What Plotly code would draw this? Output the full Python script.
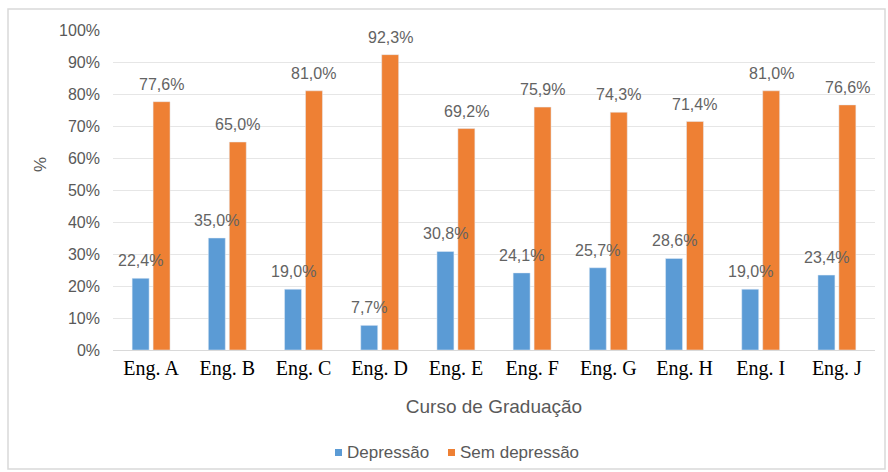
import plotly.graph_objects as go

cursos = ["Eng. A", "Eng. B", "Eng. C", "Eng. D", "Eng. E",
          "Eng. F", "Eng. G", "Eng. H", "Eng. I", "Eng. J"]
depressao = [22.4, 35.0, 19.0, 7.7, 30.8, 24.1, 25.7, 28.6, 19.0, 23.4]
sem_depressao = [77.6, 65.0, 81.0, 92.3, 69.2, 75.9, 74.3, 71.4, 81.0, 76.6]
y_ticks = list(range(0, 101, 10))
y_tick_labels = [f"{v}%" for v in y_ticks]

BLUE = "#5B9BD5"
ORANGE = "#EE8034"
GRAY = "#595959"
LABEL_GRAY = "#636363"
SANS = "Liberation Sans, Arial, sans-serif"

W, H = 888, 472
ml, mr, mt, mb = 113, 13, 30, 122
pw, ph = W - ml - mr, H - mt - mb

BARGAP, GROUPGAP = 0.45, 0.19
slot = pw / len(cursos)
sub = slot * (1 - BARGAP) / 2
offsets = [-sub / 2, sub / 2]

def px_x(p):
    return (p - ml) / pw

def px_y(p):
    return (H - mb - p) / ph

series = [("Depressão", depressao, BLUE), ("Sem depressão", sem_depressao, ORANGE)]

fig = go.Figure()
annotations = []
for (nome, valores, cor), dx in zip(series, offsets):
    fig.add_trace(go.Bar(x=cursos, y=valores, name=nome, marker_color=cor,
                         showlegend=False))
    # value labels sit a little above each bar
    for c, v in zip(cursos, valores):
        annotations.append(dict(
            x=c, y=v, xref="x", yref="y", text=f"{v:.1f}%".replace(".", ","),
            showarrow=False, xanchor="center", yanchor="bottom",
            xshift=dx, yshift=7,
            font=dict(family=SANS, size=16, color=LABEL_GRAY)))

# y-axis title, placed a bit above the middle of the axis
annotations.append(dict(text="%", xref="paper", yref="paper",
                        x=px_x(40), y=px_y(165), xanchor="center", yanchor="middle",
                        textangle=-90, showarrow=False,
                        font=dict(family=SANS, size=17, color=GRAY)))

shapes = [dict(type="rect", xref="paper", yref="paper",
               x0=px_x(8), x1=px_x(885), y0=px_y(469), y1=px_y(9),
               line=dict(color="#D9D9D9", width=1.5), layer="below")]

# compact legend: small coloured squares followed by the series names
legend_items = [("Depressão", BLUE, 335), ("Sem depressão", ORANGE, 448)]
for nome, cor, xpx in legend_items:
    shapes.append(dict(type="rect", xref="paper", yref="paper",
                       x0=px_x(xpx), x1=px_x(xpx + 7),
                       y0=px_y(456), y1=px_y(449),
                       fillcolor=cor, line=dict(width=0)))
    annotations.append(dict(text=nome, xref="paper", yref="paper",
                            x=px_x(xpx + 10), y=px_y(452), xanchor="left",
                            yanchor="middle", showarrow=False,
                            font=dict(family=SANS, size=17, color=GRAY)))

fig.update_layout(
    width=W, height=H,
    margin=dict(l=ml, r=mr, t=mt, b=mb),
    paper_bgcolor="white", plot_bgcolor="white",
    barmode="group", bargap=BARGAP, bargroupgap=GROUPGAP,
    font=dict(family=SANS, color=GRAY),
    showlegend=False,
    xaxis=dict(
        showline=True, linecolor="#D9D9D9", linewidth=1,
        tickfont=dict(family="Liberation Serif, Times New Roman, serif", size=20, color="black"),
        title=dict(text="Curso de Graduação", font=dict(family=SANS, size=19, color=GRAY),
                   standoff=20),
        ticks="",
    ),
    yaxis=dict(
        range=[0, 100], tickmode="array", tickvals=y_ticks, ticktext=y_tick_labels,
        gridcolor="#E6E6E6", gridwidth=1, zeroline=False,
        tickfont=dict(family=SANS, size=16, color=GRAY),
        ticklabelstandoff=12,
    ),
    shapes=shapes,
    annotations=annotations,
)

fig.write_html("out.html")
